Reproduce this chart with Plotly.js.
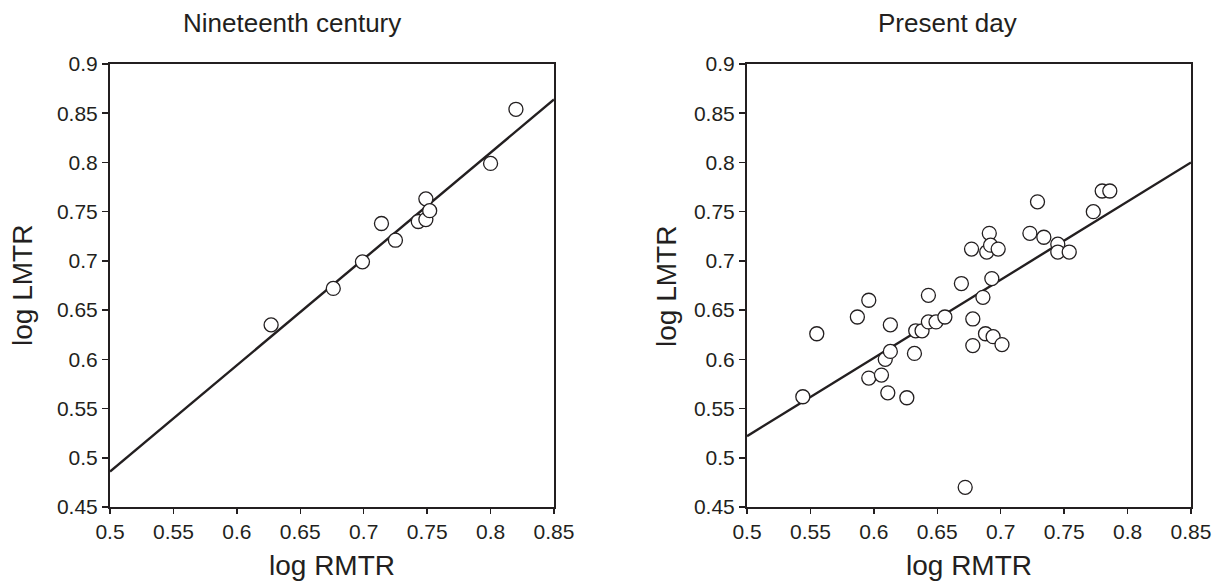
<!DOCTYPE html>
<html>
<head>
<meta charset="utf-8">
<script src="https://cdn.plot.ly/plotly-3.0.1.min.js"></script>
<style>
html,body{margin:0;padding:0;background:#fff;}
#chart{width:1222px;height:583px;}
</style>
</head>
<body>
<div id="chart"></div>
<script>
// ---- Data ----
const panelTitles = ["Nineteenth century", "Present day"];
const xAxisTitle = "log RMTR";
const yAxisTitle = "log LMTR";

const tickValsX = [0.5, 0.55, 0.6, 0.65, 0.7, 0.75, 0.8, 0.85];
const tickTextX = ["0.5", "0.55", "0.6", "0.65", "0.7", "0.75", "0.8", "0.85"];
const tickValsY = [0.45, 0.5, 0.55, 0.6, 0.65, 0.7, 0.75, 0.8, 0.85, 0.9];
const tickTextY = ["0.45", "0.5", "0.55", "0.6", "0.65", "0.7", "0.75", "0.8", "0.85", "0.9"];

// Nineteenth century points
const rmtr19 = [0.627, 0.676, 0.699, 0.714, 0.725, 0.743, 0.749, 0.749, 0.752, 0.800, 0.820];
const lmtr19 = [0.635, 0.672, 0.699, 0.738, 0.721, 0.740, 0.742, 0.763, 0.751, 0.799, 0.854];
// Regression line endpoints (nineteenth century)
const fitX19 = [0.5, 0.85];
const fitY19 = [0.486, 0.864];

// Present day points
const rmtrNow = [0.544, 0.555, 0.587, 0.596, 0.596, 0.606, 0.609, 0.613, 0.611, 0.613,
                 0.626, 0.632, 0.633, 0.638, 0.643, 0.643, 0.649, 0.656, 0.669, 0.672,
                 0.677, 0.678, 0.678, 0.686, 0.688, 0.689, 0.691, 0.692, 0.693, 0.694,
                 0.698, 0.701, 0.723, 0.729, 0.734, 0.745, 0.745, 0.754, 0.773, 0.780,
                 0.786];
const lmtrNow = [0.562, 0.626, 0.643, 0.660, 0.581, 0.584, 0.600, 0.608, 0.566, 0.635,
                 0.561, 0.606, 0.629, 0.629, 0.665, 0.638, 0.638, 0.643, 0.677, 0.470,
                 0.712, 0.641, 0.614, 0.663, 0.626, 0.709, 0.728, 0.716, 0.682, 0.623,
                 0.712, 0.615, 0.728, 0.760, 0.724, 0.717, 0.709, 0.709, 0.750, 0.771,
                 0.771];
// Regression line endpoints (present day)
const fitXNow = [0.5, 0.85];
const fitYNow = [0.522, 0.800];

// ---- Styles ----
const INK = '#231f20';
const FONT = '"Liberation Sans", Arial, Helvetica, sans-serif';

const markerStyle = {symbol: 'circle', size: 14, color: '#ffffff', line: {color: INK, width: 1.3}};
const lineStyle = {color: INK, width: 2.4};

const traces = [
  {x: fitX19, y: fitY19, mode: 'lines', line: lineStyle, xaxis: 'x', yaxis: 'y', hoverinfo: 'skip'},
  {x: rmtr19, y: lmtr19, mode: 'markers', marker: markerStyle, xaxis: 'x', yaxis: 'y'},
  {x: fitXNow, y: fitYNow, mode: 'lines', line: lineStyle, xaxis: 'x2', yaxis: 'y2', hoverinfo: 'skip'},
  {x: rmtrNow, y: lmtrNow, mode: 'markers', marker: markerStyle, xaxis: 'x2', yaxis: 'y2'}
];

function xAx(domain, anchor) {
  return {
    domain: domain, anchor: anchor, range: [0.5, 0.85],
    tickvals: tickValsX, ticktext: tickTextX,
    showline: true, mirror: true, linecolor: INK, linewidth: 2,
    ticks: 'outside', ticklen: 5, tickwidth: 1.5, tickcolor: INK,
    showgrid: false, zeroline: false, automargin: false,
    tickfont: {family: FONT, size: 21, color: INK}
  };
}
function yAx(domain, anchor) {
  return {
    domain: domain, anchor: anchor, range: [0.45, 0.9],
    tickvals: tickValsY, ticktext: tickTextY,
    showline: true, mirror: true, linecolor: INK, linewidth: 2,
    ticks: 'outside', ticklen: 6, tickwidth: 1.5, tickcolor: INK,
    showgrid: false, zeroline: false, automargin: false,
    tickfont: {family: FONT, size: 21, color: INK}
  };
}

const W = 1222, H = 583;
const yDom = [(H - 507) / H, (H - 64) / H];

const annFont = {family: FONT, size: 26, color: INK};
const axFont = {family: FONT, size: 28, color: INK};

const layout = {
  width: W, height: H,
  margin: {l: 0, r: 0, t: 0, b: 0},
  paper_bgcolor: '#ffffff', plot_bgcolor: '#ffffff',
  showlegend: false,
  font: {family: FONT, color: INK},
  xaxis: xAx([110 / W, 554 / W], 'y'),
  yaxis: yAx(yDom, 'x'),
  xaxis2: xAx([747 / W, 1191 / W], 'y2'),
  yaxis2: yAx(yDom, 'x2'),
  annotations: [
    {text: panelTitles[0], x: 292 / W, y: 1 - 23 / H, xref: 'paper', yref: 'paper', xanchor: 'center', yanchor: 'middle', showarrow: false, font: annFont},
    {text: panelTitles[1], x: 947 / W, y: 1 - 23 / H, xref: 'paper', yref: 'paper', xanchor: 'center', yanchor: 'middle', showarrow: false, font: annFont},
    {text: xAxisTitle, x: 332 / W, y: 1 - 565 / H, xref: 'paper', yref: 'paper', xanchor: 'center', yanchor: 'middle', showarrow: false, font: axFont},
    {text: xAxisTitle, x: 969 / W, y: 1 - 565 / H, xref: 'paper', yref: 'paper', xanchor: 'center', yanchor: 'middle', showarrow: false, font: axFont},
    {text: yAxisTitle, x: 22 / W, y: 1 - 286 / H, xref: 'paper', yref: 'paper', xanchor: 'center', yanchor: 'middle', textangle: -90, showarrow: false, font: axFont},
    {text: yAxisTitle, x: 666 / W, y: 1 - 287 / H, xref: 'paper', yref: 'paper', xanchor: 'center', yanchor: 'middle', textangle: -90, showarrow: false, font: axFont}
  ]
};

Plotly.newPlot('chart', traces, layout, {displayModeBar: false, staticPlot: true});
</script>
</body>
</html>
